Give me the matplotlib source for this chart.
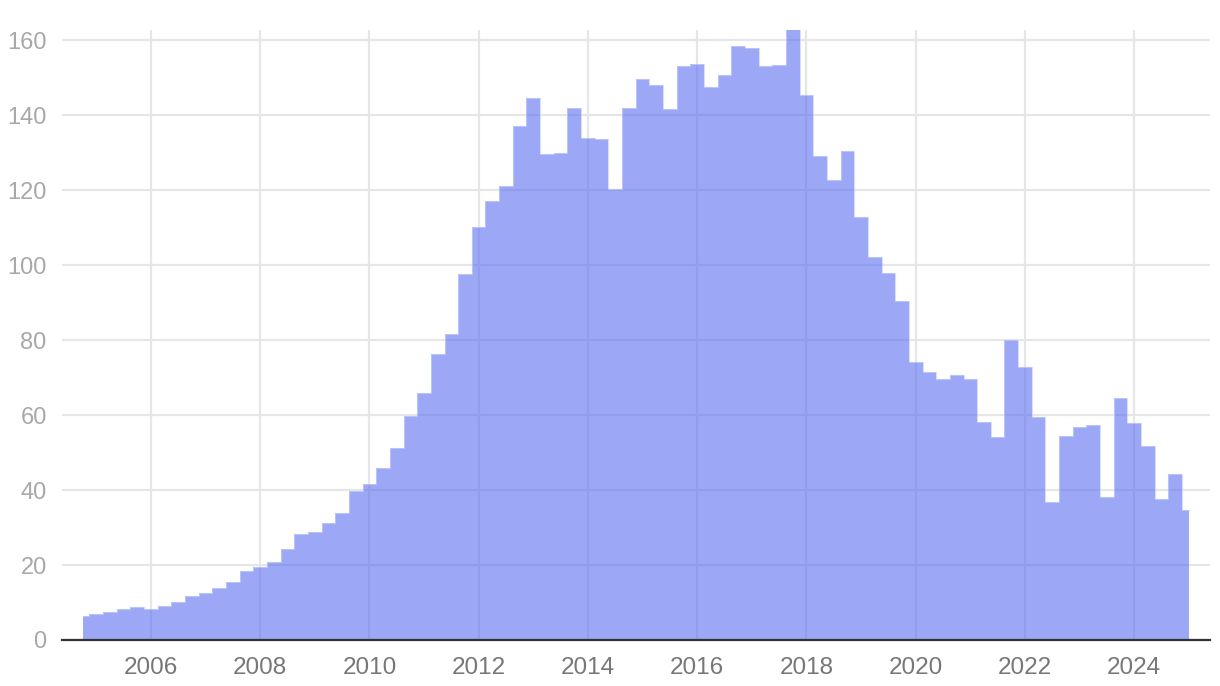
import numpy as np
import pandas as pd
import matplotlib
matplotlib.use('Agg')
import matplotlib.pyplot as plt

# quarterly points, Q4 2004 .. Q1 2025
quarters = pd.date_range('2004-10-01', '2025-01-01', freq='QS')
counts = [6.4, 7.0, 7.6, 8.3, 8.8, 8.3, 9.2, 10.1, 11.8, 12.5, 13.8, 15.4,
          18.5, 19.5, 20.8, 24.4, 28.2, 28.9, 31.2, 34.0, 39.7, 41.6,
          45.8, 51.1, 59.7, 65.8, 76.3, 81.5, 97.6, 110.1, 117.2, 121.2,
          137.1, 144.6, 129.7, 129.8, 141.9, 133.8, 133.5, 120.2, 141.8,
          149.5, 148.0,
          141.7, 153.0, 153.6, 147.5, 150.6, 158.4, 158.0, 153.2, 153.3,
          164.0, 145.3, 129.1, 122.7, 130.3, 112.8, 102.2,
          97.9, 90.4, 74.1, 71.5, 69.6, 70.6, 69.6, 58.2, 54.1, 79.9, 72.9,
          59.6, 36.7, 54.4, 56.8, 57.3, 38.2, 64.5, 57.9, 51.8, 37.7, 44.4,
          34.7]
year_ticks = list(range(2006, 2025, 2))
y_ticks = list(range(0, 161, 20))

x = quarters.year + (quarters.month - 1) / 12.0
y = np.array(counts)

plt.rcParams['font.family'] = ['Liberation Sans', 'DejaVu Sans']

fig = plt.figure(figsize=(12.2, 6.86), dpi=100)
ax = fig.add_axes([62 / 1220, 46 / 686, 1148 / 1220, 610 / 686])

ax.fill_between(x, 0, y, step='mid', color='#5a6ef0', alpha=0.6,
                linewidth=0, zorder=2)
ax.step(x, y, where='mid', color='#c8cffa', lw=0.8, alpha=0.7, zorder=3)

ax.set_xlim(2004.373, 2025.387)
ax.set_ylim(0, 162.67)
ax.set_xticks(year_ticks)
ax.set_xticklabels([str(t) for t in year_ticks])
ax.set_yticks(y_ticks)

ax.grid(True, color='#e6e6e6', lw=1.6, zorder=0)
ax.set_axisbelow(True)
for s in ['top', 'right', 'left']:
    ax.spines[s].set_visible(False)
ax.spines['bottom'].set_color('#333333')
ax.spines['bottom'].set_linewidth(1.6)
ax.spines['bottom'].set_zorder(4)

ax.tick_params(axis='both', length=0)
ax.tick_params(axis='x', labelsize=17.5, labelcolor='#777777', pad=12)
ax.tick_params(axis='y', labelsize=17, labelcolor='#a8a8a8', pad=11)

fig.savefig('out.png', dpi=100)
